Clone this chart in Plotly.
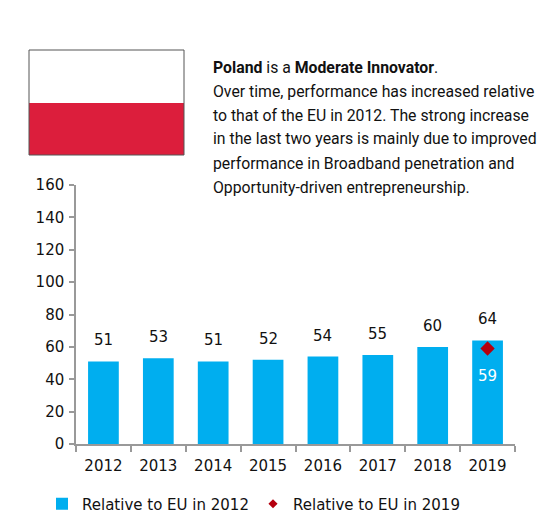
import plotly.graph_objects as go

years = ['2012', '2013', '2014', '2015', '2016', '2017', '2018', '2019']
rel_2012 = [51, 53, 51, 52, 54, 55, 60, 64]
rel_2019_year = ['2019']
rel_2019 = [59]

intro_lines = [
    '<b>Poland</b> is a <b>Moderate Innovator</b>.',
    'Over time, performance has increased relative',
    'to that of the EU in 2012. The strong increase',
    'in the last two years is mainly due to improved',
    'performance in Broadband penetration and',
    'Opportunity-driven entrepreneurship.',
]

# page has an 8px body margin, so the figure is drawn 8px smaller and shifted
OFF = 8
W, H = 557 - OFF, 527 - OFF
L, R, T, B = 76 - OFF, 42, 185 - OFF, 83


# reference pixel -> paper helpers for the decoration (flag, text block, legend)
def px(x):
    return (x - OFF - L) / (W - L - R)


def py(y):
    return (H - B - (y - OFF)) / (H - T - B)


fig = go.Figure()
fig.add_trace(go.Bar(x=years, y=rel_2012, name='Relative to EU in 2012',
                     marker=dict(color='#00AEEF', line=dict(width=0))))
fig.add_trace(go.Scatter(x=rel_2019_year, y=rel_2019, mode='markers', showlegend=False,
                         marker=dict(symbol='diamond', size=11, color='#B5000F')))
# smaller diamond for the legend entry only
fig.add_trace(go.Scatter(x=[None], y=[None], mode='markers', name='Relative to EU in 2019',
                         marker=dict(symbol='diamond', size=7, color='#B5000F')))

# category axis: annotations need the category index, not the numeric-looking label
for i, v in enumerate(rel_2012):
    fig.add_annotation(x=i, y=v, text=str(v), showarrow=False, yshift=21,
                       font=dict(size=15, color='#111111'))
for yr, v in zip(rel_2019_year, rel_2019):
    fig.add_annotation(x=years.index(yr), y=v, text=str(v), showarrow=False, yshift=-28,
                       font=dict(size=15, color='white'))

# flag
fig.add_shape(type='rect', xref='paper', yref='paper', x0=px(29), x1=px(184), y0=py(103), y1=py(50),
              fillcolor='white', line=dict(width=0))
fig.add_shape(type='rect', xref='paper', yref='paper', x0=px(29), x1=px(184), y0=py(155), y1=py(103),
              fillcolor='#DC1E3C', line=dict(width=0))
fig.add_shape(type='rect', xref='paper', yref='paper', x0=px(29), x1=px(184), y0=py(155), y1=py(50),
              fillcolor='rgba(0,0,0,0)', line=dict(width=1, color='#555555'))

line_y = [67, 91, 115, 139, 163, 187]
for txt, yy in zip(intro_lines, line_y):
    fig.add_annotation(xref='paper', yref='paper', x=px(211), y=py(yy), text=txt, showarrow=False,
                       xanchor='left', yanchor='middle',
                       font=dict(family='Roboto, sans-serif', size=15.8, color='#111111'))

fig.update_layout(
    width=W, height=H,
    margin=dict(l=L, r=R, t=T, b=B, autoexpand=False),
    paper_bgcolor='white', plot_bgcolor='white',
    font=dict(family='DejaVu Sans, Verdana, sans-serif', size=15, color='#111111'),
    bargap=0.44,
    showlegend=True,
    legend=dict(orientation='h', x=px(42), xanchor='left', y=py(504), yanchor='middle',
                entrywidth=166, font=dict(size=15), traceorder='normal'),
)
fig.update_xaxes(type='category', range=[-0.5, len(years) - 0.5], showline=True, linecolor='#999999',
                 linewidth=1.5, ticks='outside', tickson='boundaries', ticklen=6, tickcolor='#999999',
                 tickwidth=1.5, showgrid=False, ticklabelstandoff=7)
fig.update_yaxes(range=[0, 160], dtick=20, showline=True, linecolor='#999999', linewidth=1.5,
                 ticks='outside', ticklen=5, tickcolor='#999999', tickwidth=1.5, showgrid=False,
                 zeroline=False, ticklabelstandoff=2)

fig.write_html('out.html')
